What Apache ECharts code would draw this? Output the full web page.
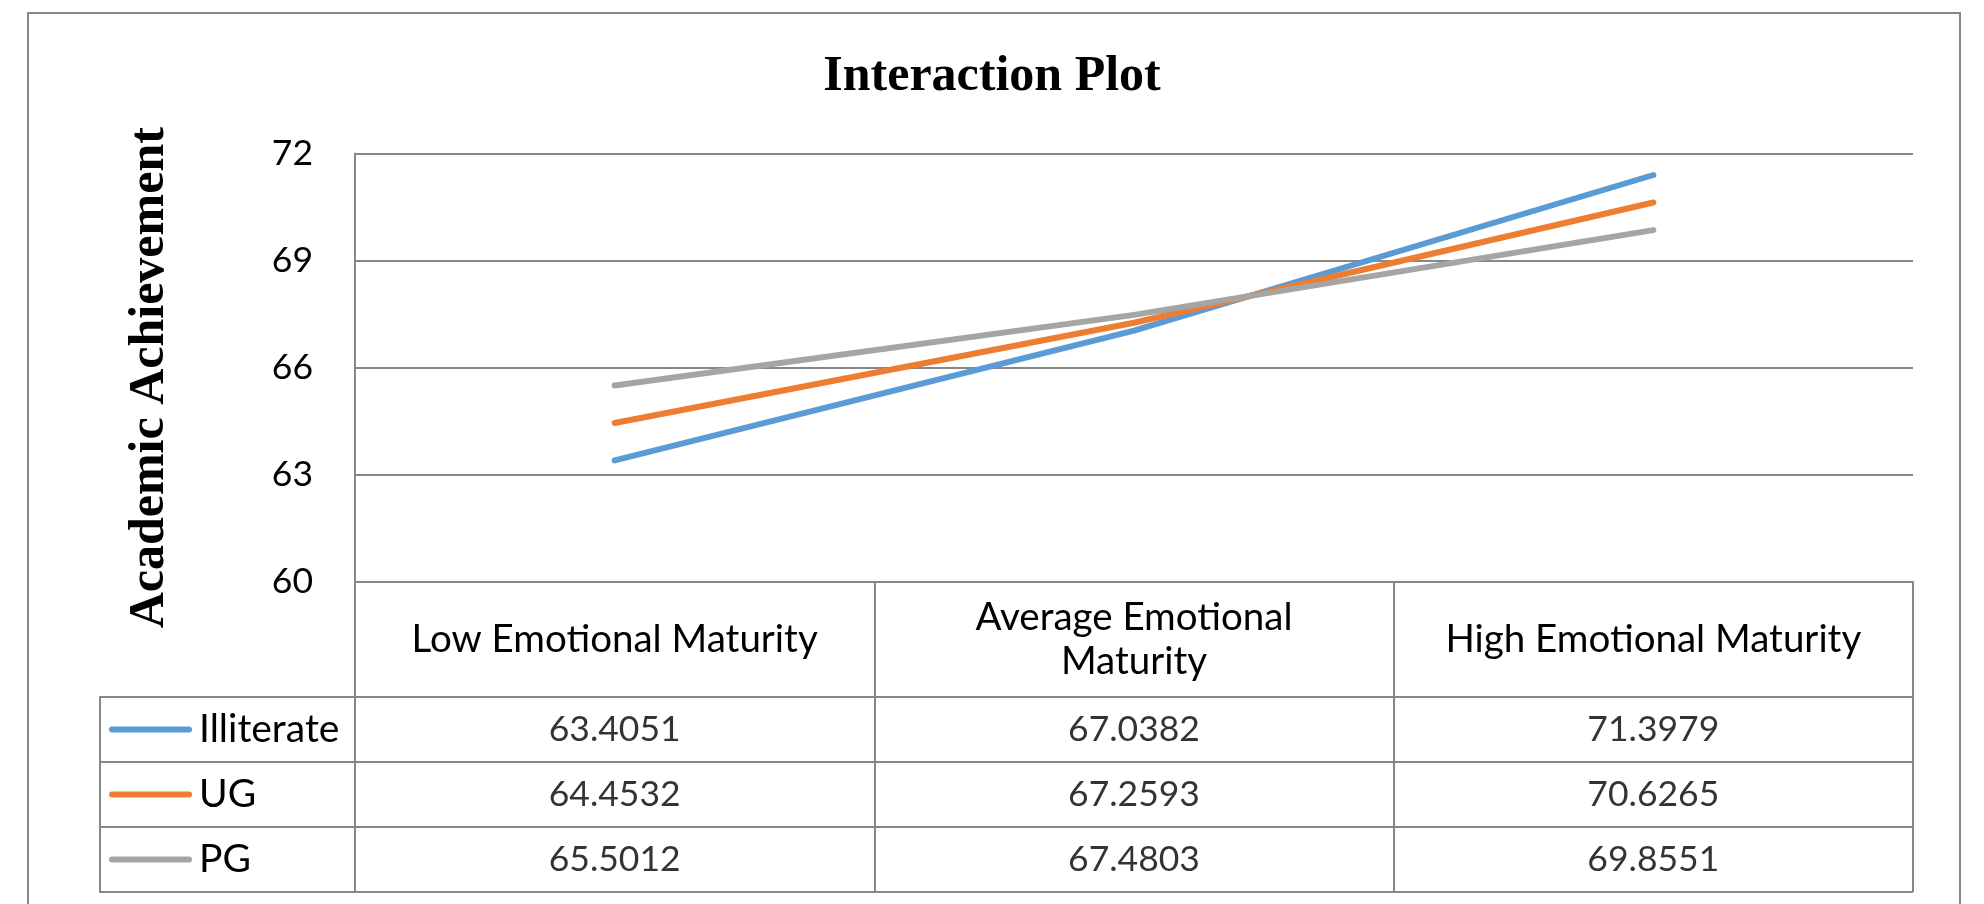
<!DOCTYPE html>
<html>
<head>
<meta charset="utf-8">
<script src="https://cdn.jsdelivr.net/npm/echarts@6/dist/echarts.min.js"></script>
<style>
  html, body { margin: 0; padding: 0; background: #fff; }
  #chart { width: 1984px; height: 904px; }
</style>
</head>
<body>
<div id="chart"></div>
<script>
// ---- data ----
const titleText = 'Interaction Plot';
const yAxisTitle = 'Academic Achievement';
const categories = ['Low Emotional Maturity', 'Average Emotional Maturity', 'High Emotional Maturity'];
const xTickLabels = ['Low Emotional Maturity', 'Average Emotional\nMaturity', 'High Emotional Maturity'];
const seriesNames = ['Illiterate', 'UG', 'PG'];
const illiterate = [63.4051, 67.0382, 71.3979];
const ug = [64.4532, 67.2593, 70.6265];
const pg = [65.5012, 67.4803, 69.8551];
const yMin = 60, yMax = 72, yInterval = 3;

// ---- style ----
const colors = ['#5B9BD5', '#ED7D31', '#A5A5A5'];
const gridColor = '#878787';
const sans = 'Lato, "Open Sans", sans-serif';
const serif = '"Times New Roman", "Liberation Serif", serif';
const numFs = 35.5;
const catFs = 38.5;
const legFs = 39;

const seriesValues = [illiterate, ug, pg];

// table cells built from the series arrays
const tableData = [];
seriesValues.forEach((vals, si) => {
  vals.forEach((v, ci) => tableData.push([categories[ci], seriesNames[si], v]));
});

const chart = echarts.init(document.getElementById('chart'), null, { renderer: 'canvas' });

const rich = { t: { fontFamily: sans, fontSize: legFs, color: '#000', padding: [0, 0, 0, 7] } };
colors.forEach((c, i) => {
  rich['c' + i] = { backgroundColor: c, width: 83, height: 6, borderRadius: 3 };
});

chart.setOption({
  animation: false,
  backgroundColor: '#fff',
  title: {
    text: titleText,
    left: 'center',
    top: 47,
    textStyle: { fontFamily: serif, fontWeight: 'bold', fontSize: 50, color: '#000' }
  },
  graphic: [{
    type: 'rect',
    shape: { x: 28, y: 13, width: 1932, height: 930 },
    style: { fill: null, stroke: gridColor, lineWidth: 2 },
    silent: true
  }],
  grid: [
    { left: 355, right: 71, top: 153.5, height: 428.5 },
    { left: 355, right: 71, top: 697, height: 195 },
    { left: 100, width: 255, top: 697, height: 195 }
  ],
  xAxis: [
    {
      type: 'category', gridIndex: 0, data: categories, boundaryGap: true,
      axisLine: { show: true, lineStyle: { color: gridColor, width: 2 } },
      axisTick: { show: true, length: 115, lineStyle: { color: gridColor, width: 2 } },
      axisLabel: {
        formatter: (v, i) => xTickLabels[i],
        verticalAlign: 'middle', margin: 57.5, lineHeight: 44,
        fontFamily: sans, fontSize: catFs, color: '#000', interval: 0
      },
      splitLine: { show: false }
    },
    {
      type: 'category', gridIndex: 1, data: categories, boundaryGap: true,
      axisLine: { show: false }, axisTick: { show: false }, axisLabel: { show: false },
      splitLine: { show: true, interval: 0, lineStyle: { color: gridColor, width: 2 } }
    },
    {
      type: 'value', gridIndex: 2, show: false
    }
  ],
  yAxis: [
    {
      type: 'value', gridIndex: 0, min: yMin, max: yMax, interval: yInterval,
      name: yAxisTitle, nameLocation: 'middle', nameRotate: 90, nameGap: 180,
      nameTextStyle: { fontFamily: serif, fontWeight: 'bold', fontSize: 50, color: '#000', padding: [0, 20, 0, 0] },
      axisLine: { show: true, lineStyle: { color: gridColor, width: 2 } },
      axisTick: { show: false },
      axisLabel: { margin: 42, fontFamily: sans, fontSize: numFs, color: '#000' },
      splitLine: { show: true, lineStyle: { color: gridColor, width: 2 } }
    },
    {
      type: 'category', gridIndex: 1, data: seriesNames, inverse: true,
      axisLine: { show: false }, axisTick: { show: false }, axisLabel: { show: false },
      splitLine: { show: true, interval: 0, lineStyle: { color: gridColor, width: 2 } }
    },
    {
      type: 'category', gridIndex: 2, data: seriesNames, inverse: true,
      axisLine: { show: true, lineStyle: { color: gridColor, width: 2 } },
      axisTick: { show: false },
      axisLabel: {
        inside: true, margin: 9, align: 'left', interval: 0,
        formatter: (v, i) => '{c' + i + '|}{t|' + v + '}',
        rich: rich
      },
      splitLine: { show: true, interval: 0, lineStyle: { color: gridColor, width: 2 } }
    }
  ],
  series: seriesNames.map((name, i) => ({
    name: name,
    type: 'line',
    xAxisIndex: 0, yAxisIndex: 0,
    data: seriesValues[i],
    symbol: 'none',
    smooth: false,
    lineStyle: { color: colors[i], width: 6, cap: 'round', join: 'round' },
    itemStyle: { color: colors[i] },
    silent: true,
    z: 3
  })).concat([{
    type: 'scatter',
    xAxisIndex: 1, yAxisIndex: 1,
    data: tableData,
    symbolSize: 0,
    silent: true,
    label: {
      show: true, position: 'inside',
      formatter: p => String(p.value[2]),
      fontFamily: sans, fontSize: numFs, color: '#000'
    }
  }])
});
</script>
</body>
</html>
